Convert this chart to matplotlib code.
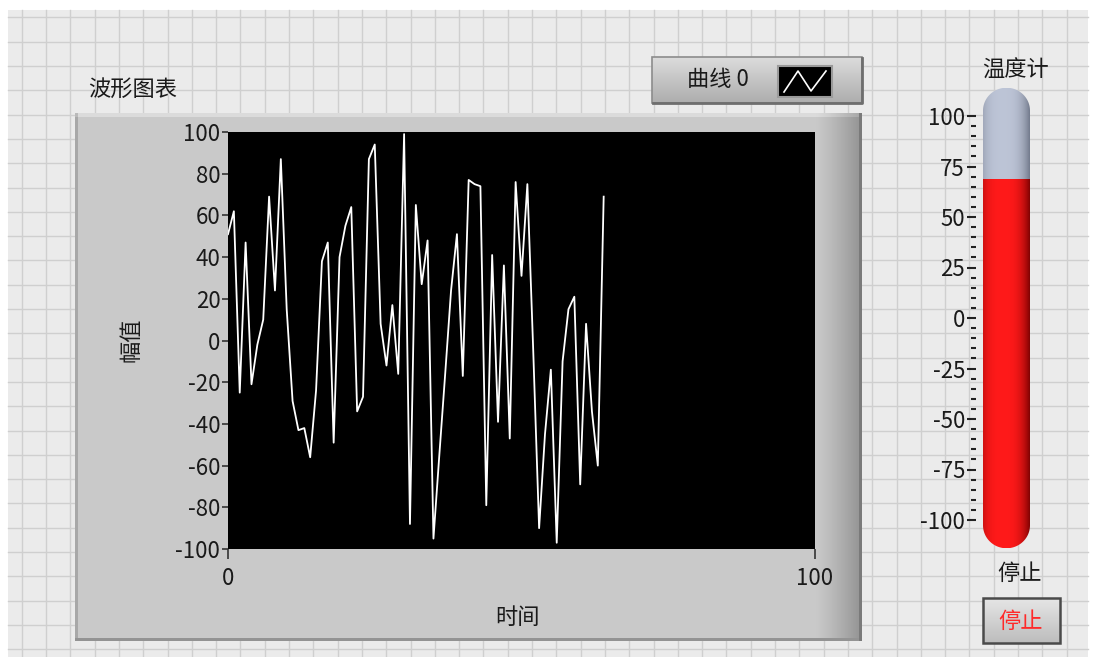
import numpy as np
import matplotlib
matplotlib.use("Agg")
import matplotlib.pyplot as plt
from matplotlib.patches import Rectangle, Polygon

plt.rcParams['font.family'] = ['Noto Sans CJK SC', 'DejaVu Sans']
plt.rcParams['axes.unicode_minus'] = False

# ---------------- data ----------------
amplitude = [51, 62, -25, 47, -21, -2, 10, 69, 24, 87,
             15, -29, -43, -42, -56, -24, 38, 47, -49, 40,
             55, 64, -34, -27, 87, 94, 8, -12, 17, -16,
             99, -88, 65, 27, 48, -95, -55, -16, 24, 51,
             -17, 77, 75, 74, -79, 41, -39, 36, -47, 76,
             31, 75, -5, -90, -45, -14, -97, -10, 15, 21,
             -69, 8, -34, -60, 69]
x_ticks = [0, 100]
y_ticks = [100, 80, 60, 40, 20, 0, -20, -40, -60, -80, -100]
thermo_ticks = [100, 75, 50, 25, 0, -25, -50, -75, -100]
thermo_minor = list(range(-100, 101, 5))
thermo_value = amplitude[-1]

chart_title = '波形图表'
x_label = '时间'
y_label = '幅值'
legend_label = '曲线 0'
thermo_label = '温度计'
stop_label = '停止'

# ---------------- figure ----------------
W, H = 1093, 657
fig = plt.figure(figsize=(W / 100, H / 100), dpi=100)
fig.patch.set_facecolor('white')


def fax(x0, y0, x1, y1):
    return [x0 / W, 1 - y1 / H, (x1 - x0) / W, (y1 - y0) / H]


bg = fig.add_axes([0, 0, 1, 1])
bg.set_xlim(0, W)
bg.set_ylim(H, 0)
bg.axis('off')

# panel grid
bg.add_patch(Rectangle((8, 10), 1080, 647, fc='#ebebeb', ec='none', zorder=0))
for gx in np.arange(21.7, 1088, 24.3):
    bg.plot([gx, gx], [10, 657], color='#cfcfcf', lw=1.0, zorder=1)
for gy in np.arange(17.4, 657, 24.3):
    bg.plot([8, 1088], [gy, gy], color='#cfcfcf', lw=1.0, zorder=1)

# chart frame (bevelled gray)
fx0, fx1, fy0, fy1 = 75, 862, 113, 641
cols = np.arange(fx0, fx1)
rows = np.arange(fy0, fy1)
frame = np.full((len(rows), len(cols)), 0.79)
right = cols > 815
frame[:, right] = 0.79 - 0.22 * ((cols[right] - 815) / 47.0) ** 1.2
frame[:, cols < 78] = 0.66
frame[rows < 117, :] = np.minimum(frame[rows < 117, :] + 0.07, 1)
frame[rows > 637, :] = 0.58
frame[:, cols > 858] = 0.48
bg.imshow(np.dstack([frame, frame, frame]), extent=(fx0, fx1, fy1, fy0),
          origin='upper', aspect='auto', zorder=2, interpolation='bilinear')

bg.text(88, 89, chart_title, fontsize=16, ha='left', va='center', color='#1a1a1a', zorder=5)
bg.text(131, 340, y_label, fontsize=16, rotation=90, ha='center', va='center', color='#1a1a1a', zorder=5)
bg.text(517, 617, x_label, fontsize=16, ha='center', va='center', color='#1a1a1a', zorder=5)

# legend box
lg = np.linspace(0.86, 0.68, 46)[:, None] * np.ones((1, 210))
bg.imshow(np.dstack([lg, lg, lg]), extent=(652, 862, 103, 57), origin='upper',
          aspect='auto', zorder=3)
bg.add_patch(Rectangle((652, 57), 210, 46, fc='none', ec='#8c8c8c', lw=1.2, zorder=4))
bg.plot([653, 862, 862], [103, 103, 58], color='#6e6e6e', lw=2, zorder=4)
bg.text(718, 80, legend_label, fontsize=16, ha='center', va='center', color='#1a1a1a', zorder=5)
bg.add_patch(Rectangle((778, 66), 54, 31, fc='black', ec='#9a9a9a', lw=1.5, zorder=5))
bg.plot([784, 798, 811, 826], [92, 71, 91, 71], color='white', lw=1.2, zorder=6)

# ---------------- waveform chart ----------------
ax = fig.add_axes(fax(228, 132, 815, 549))
ax.set_facecolor('black')
ax.plot(np.arange(len(amplitude)), amplitude, color='white', lw=1.3)
ax.set_xlim(0, 100)
ax.set_ylim(-100, 100)
ax.set_xticks(x_ticks)
ax.set_yticks(y_ticks)
for s in ax.spines.values():
    s.set_visible(False)
ax.tick_params(axis='y', direction='out', length=4.5, width=1.2, color='#333333',
               pad=1, labelsize=16, labelcolor='#1a1a1a')
ax.tick_params(axis='x', direction='out', length=7, width=1.2, color='#333333',
               pad=6, labelsize=16, labelcolor='#1a1a1a')

# ---------------- thermometer ----------------
unit_px = 404 / 200.0
ext = 14
tax = fig.add_axes(fax(976, 116 - ext * unit_px, 1036, 520 + ext * unit_px))
tax.patch.set_visible(False)
for s in tax.spines.values():
    s.set_visible(False)
tax.set_xticks([])
tax.set_yticks(thermo_ticks)
tax.set_yticks(thermo_minor, minor=True)
tax.tick_params(axis='y', which='major', direction='out', length=6.5, width=1.5,
                color='#222222', pad=1.5, labelsize=16, labelcolor='#1a1a1a')
tax.tick_params(axis='y', which='minor', direction='out', length=3.8, width=1.5,
                color='#222222')

cx, rx = 30.5, 23.5
ry = 23 / unit_px
yt, yb = 100 + ext - ry, -100 - ext + ry
th1 = np.linspace(0, np.pi, 80)
th2 = np.linspace(np.pi, 2 * np.pi, 80)
outline = np.vstack([
    np.column_stack([cx + rx * np.cos(th1), yt + ry * np.sin(th1)]),
    np.column_stack([cx + rx * np.cos(th2), yb + ry * np.sin(th2)]),
])
tube = Polygon(outline, closed=True, fc='none', ec='none')
tax.add_patch(tube)

t = np.linspace(0, 1, 120)
s = np.clip(1 - np.abs((t - 0.42) / 0.6) ** 3, 0, 1)
red_edge, red_mid = np.array([0.45, 0.0, 0.0]), np.array([1.0, 0.1, 0.1])
gray_edge, gray_mid = np.array([0.42, 0.45, 0.52]), np.array([0.74, 0.77, 0.84])
red_img = (red_edge[None, :] + (red_mid - red_edge)[None, :] * s[:, None])[None, :, :]
gray_img = (gray_edge[None, :] + (gray_mid - gray_edge)[None, :] * s[:, None])[None, :, :]

im_red = tax.imshow(red_img, extent=(cx - rx, cx + rx, -100 - ext, thermo_value),
                    origin='lower', aspect='auto', interpolation='bilinear', zorder=2)
im_red.set_clip_path(tube)
im_gray = tax.imshow(gray_img, extent=(cx - rx, cx + rx, thermo_value, 100 + ext),
                     origin='lower', aspect='auto', interpolation='bilinear', zorder=2)
im_gray.set_clip_path(tube)
tax.set_xlim(0, 60)
tax.set_ylim(-100 - ext, 100 + ext)

bg.text(1016, 70, thermo_label, fontsize=16, ha='center', va='center', color='#1a1a1a', zorder=5)
bg.text(1020, 573, stop_label, fontsize=16, ha='center', va='center', color='#1a1a1a', zorder=5)

# stop button
bt = np.linspace(0.90, 0.74, 45)[:, None] * np.ones((1, 77))
bg.imshow(np.dstack([bt, bt, bt]), extent=(983, 1060, 643, 598), origin='upper',
          aspect='auto', zorder=3)
bg.add_patch(Rectangle((983, 598), 77, 45, fc='none', ec='#4a4a4a', lw=1.8, zorder=4))
bg.text(1021, 621, stop_label, fontsize=16, ha='center', va='center', color='#ff2a2a', zorder=5)
bg.set_xlim(0, W)
bg.set_ylim(H, 0)

fig.savefig('out.png', dpi=100, facecolor='white')
